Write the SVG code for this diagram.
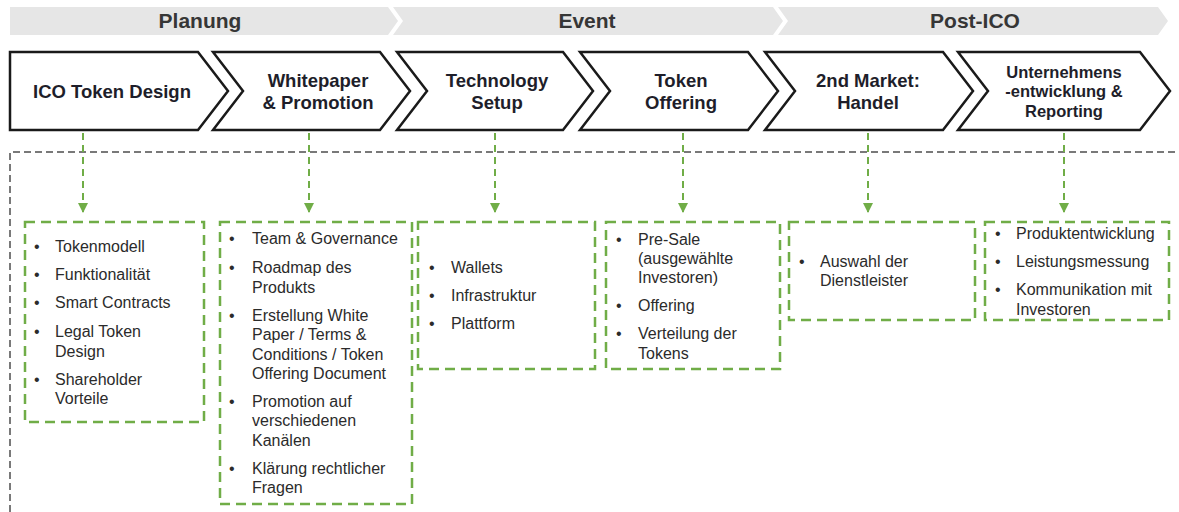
<svg xmlns="http://www.w3.org/2000/svg" width="1179" height="512" viewBox="0 0 1179 512">
  <defs>
    <style>
      .phase { fill: #e6e6e6; }
      .phase-label { font-family: "Liberation Sans", Arial, sans-serif; font-weight: bold; font-size: 21px; fill: #363636; text-anchor: middle; }
      .step { fill: #ffffff; stroke: #1a1a1a; stroke-width: 2.5; stroke-linejoin: miter; }
      .step-label { font-family: "Liberation Sans", Arial, sans-serif; font-weight: bold; font-size: 18.5px; fill: #1e1e2a; text-anchor: middle; }
      .step-label.small { font-size: 16.5px; }
      .frame { fill: none; stroke: #4d4d4d; stroke-width: 1.5; stroke-dasharray: 7 4; }
      .link { fill: none; stroke: #70ad47; stroke-width: 2; stroke-dasharray: 7 5; }
      .box { fill: none; stroke: #70ad47; stroke-width: 2.5; stroke-dasharray: 10 6; }
      .item { font-family: "Liberation Sans", Arial, sans-serif; font-size: 16px; fill: #2b2b2b; }
    </style>
    <marker id="arrow" viewBox="0 0 10 10" refX="9" refY="5" markerWidth="5" markerHeight="5" markerUnits="strokeWidth" orient="auto">
      <path d="M0,0 L10,5 L0,10 Z" fill="#70ad47"/>
    </marker>
  </defs>

  <!-- phase bands -->
  <g id="phase-planung">
    <polygon class="phase" points="10,7 388,7 398,21 388,35 10,35"/>
    <text class="phase-label" x="200" y="28">Planung</text>
  </g>
  <g id="phase-event">
    <polygon class="phase" points="393,7 773,7 783,21 773,35 393,35 403,21"/>
    <text class="phase-label" x="587" y="28">Event</text>
  </g>
  <g id="phase-post-ico">
    <polygon class="phase" points="778,7 1158,7 1168,21 1158,35 778,35 788,21"/>
    <text class="phase-label" x="975" y="28">Post-ICO</text>
  </g>

  <!-- process steps -->
  <g id="step-design">
    <polygon class="step" points="10,52 198,52 228,91 198,130 10,130"/>
    <text class="step-label" x="112" y="98">ICO Token Design</text>
  </g>
  <g id="step-whitepaper">
    <polygon class="step" points="213,52 380,52 410,91 380,130 213,130 243,91"/>
    <text class="step-label" x="318" y="87">Whitepaper</text>
    <text class="step-label" x="318" y="109">&amp; Promotion</text>
  </g>
  <g id="step-technology">
    <polygon class="step" points="397,52 563,52 593,91 563,130 397,130 427,91"/>
    <text class="step-label" x="497" y="87">Technology</text>
    <text class="step-label" x="497" y="109">Setup</text>
  </g>
  <g id="step-offering">
    <polygon class="step" points="580,52 748,52 778,91 748,130 580,130 610,91"/>
    <text class="step-label" x="681" y="87">Token</text>
    <text class="step-label" x="681" y="109">Offering</text>
  </g>
  <g id="step-market">
    <polygon class="step" points="765,52 943,52 973,91 943,130 765,130 795,91"/>
    <text class="step-label" x="868" y="87">2nd Market:</text>
    <text class="step-label" x="868" y="109">Handel</text>
  </g>
  <g id="step-company">
    <polygon class="step" points="958,52 1140,52 1170,91 1140,130 958,130 988,91"/>
    <text class="step-label small" x="1064" y="78">Unternehmens</text>
    <text class="step-label small" x="1064" y="97">-entwicklung &amp;</text>
    <text class="step-label small" x="1064" y="117">Reporting</text>
  </g>

  <!-- open frame around the detail area -->
  <path class="frame" d="M10,512 L10,152 L1179,152"/>

  <!-- connectors -->
  <g id="connectors">
    <line class="link" x1="83" y1="133" x2="83" y2="212" marker-end="url(#arrow)"/>
    <line class="link" x1="309" y1="133" x2="309" y2="212" marker-end="url(#arrow)"/>
    <line class="link" x1="495" y1="133" x2="495" y2="212" marker-end="url(#arrow)"/>
    <line class="link" x1="683" y1="133" x2="683" y2="212" marker-end="url(#arrow)"/>
    <line class="link" x1="868" y1="133" x2="868" y2="212" marker-end="url(#arrow)"/>
    <line class="link" x1="1064" y1="133" x2="1064" y2="212" marker-end="url(#arrow)"/>
  </g>

  <!-- detail boxes -->
  <g id="box-design">
    <rect class="box" x="25" y="222" width="179" height="200"/>
    <g class="item">
      <text x="34" y="252">•</text><text x="55" y="252">Tokenmodell</text>
      <text x="34" y="280">•</text><text x="55" y="280">Funktionalität</text>
      <text x="34" y="308">•</text><text x="55" y="308">Smart Contracts</text>
      <text x="34" y="337">•</text><text x="55" y="337">Legal Token</text>
      <text x="55" y="357">Design</text>
      <text x="34" y="385">•</text><text x="55" y="385">Shareholder</text>
      <text x="55" y="404">Vorteile</text>
    </g>
  </g>
  <g id="box-whitepaper">
    <rect class="box" x="220" y="222" width="192" height="282"/>
    <g class="item">
      <text x="229" y="244">•</text><text x="252" y="244">Team &amp; Governance</text>
      <text x="229" y="273">•</text><text x="252" y="273">Roadmap des</text>
      <text x="252" y="293">Produkts</text>
      <text x="229" y="321">•</text><text x="252" y="321">Erstellung White</text>
      <text x="252" y="340">Paper / Terms &amp;</text>
      <text x="252" y="360">Conditions / Token</text>
      <text x="252" y="379">Offering Document</text>
      <text x="229" y="407">•</text><text x="252" y="407">Promotion auf</text>
      <text x="252" y="426">verschiedenen</text>
      <text x="252" y="446">Kanälen</text>
      <text x="229" y="474">•</text><text x="252" y="474">Klärung rechtlicher</text>
      <text x="252" y="493">Fragen</text>
    </g>
  </g>
  <g id="box-technology">
    <rect class="box" x="418" y="222" width="177" height="147"/>
    <g class="item">
      <text x="429" y="273">•</text><text x="451" y="273">Wallets</text>
      <text x="429" y="301">•</text><text x="451" y="301">Infrastruktur</text>
      <text x="429" y="329">•</text><text x="451" y="329">Plattform</text>
    </g>
  </g>
  <g id="box-offering">
    <rect class="box" x="606" y="222" width="174" height="147"/>
    <g class="item">
      <text x="616" y="245">•</text><text x="638" y="245">Pre-Sale</text>
      <text x="638" y="264">(ausgewählte</text>
      <text x="638" y="283">Investoren)</text>
      <text x="616" y="311">•</text><text x="638" y="311">Offering</text>
      <text x="616" y="339">•</text><text x="638" y="339">Verteilung der</text>
      <text x="638" y="359">Tokens</text>
    </g>
  </g>
  <g id="box-market">
    <rect class="box" x="789" y="222" width="186" height="98"/>
    <g class="item">
      <text x="799" y="267">•</text><text x="820" y="267">Auswahl der</text>
      <text x="820" y="286">Dienstleister</text>
    </g>
  </g>
  <g id="box-company">
    <rect class="box" x="985" y="222" width="184" height="98"/>
    <g class="item">
      <text x="995" y="239">•</text><text x="1016" y="239">Produktentwicklung</text>
      <text x="995" y="267">•</text><text x="1016" y="267">Leistungsmessung</text>
      <text x="995" y="295">•</text><text x="1016" y="295">Kommunikation mit</text>
      <text x="1016" y="315">Investoren</text>
    </g>
  </g>
</svg>
